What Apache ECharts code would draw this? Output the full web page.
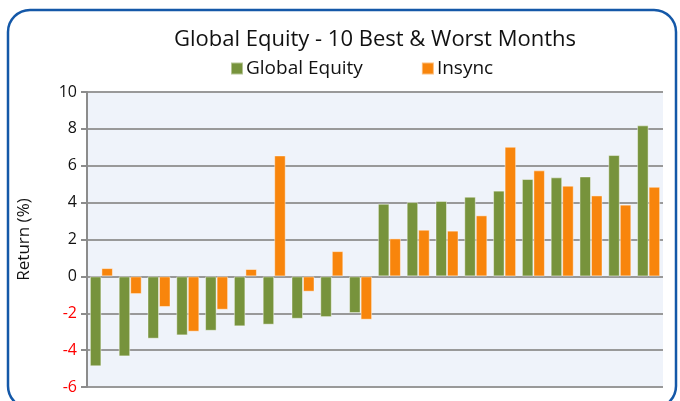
<!doctype html>
<html lang="en">
<head>
    <meta charset="UTF-8">
    <title>Global Equity - 10 Best & Worst Months</title>
    <style>
        body { margin: 0; background: #fff; }
    </style>
</head>
<body>
    <script src="https://cdn.jsdelivr.net/npm/echarts@6/dist/echarts.min.js"></script>
    <div id="bar" style="width: 680px; height: 401px"></div>

    <script>
        // 20 months: 10 worst then 10 best for Global Equity
        var months = ['1', '2', '3', '4', '5', '6', '7', '8', '9', '10',
                      '11', '12', '13', '14', '15', '16', '17', '18', '19', '20'];
        var globalEquity = [-4.88, -4.34, -3.38, -3.2, -2.95, -2.71, -2.62, -2.3, -2.21, -1.99,
                            3.94, 4.03, 4.09, 4.32, 4.65, 5.28, 5.37, 5.42, 6.58, 8.19];
        var insync = [0.45, -0.96, -1.66, -3.0, -1.81, 0.4, 6.56, -0.83, 1.37, -2.35,
                      2.06, 2.53, 2.48, 3.31, 7.03, 5.75, 4.92, 4.39, 3.89, 4.86];

        var font = '"Liberation Sans Narrow", "Open Sans", sans-serif';

        var barOption = {
            animation: false,
            textStyle: { fontFamily: font },
            graphic: [{
                type: 'rect',
                shape: { x: 8, y: 10, width: 668, height: 398, r: 22 },
                style: { fill: 'none', stroke: '#1458a8', lineWidth: 2.5 },
                z: 100
            }],
            title: {
                text: 'Global Equity - 10 Best & Worst Months',
                left: 375,
                textAlign: 'center',
                top: 29,
                padding: 0,
                textStyle: { fontFamily: font, fontSize: 22, fontWeight: 'normal', color: '#111' }
            },
            legend: {
                top: 59,
                left: 230,
                padding: 0,
                itemWidth: 12,
                itemHeight: 12,
                itemGap: 58,
                icon: 'rect',
                textStyle: { fontFamily: font, fontSize: 19, color: '#111', padding: [0, 0, 0, -2] },
                data: ['Global Equity', 'Insync']
            },
            grid: {
                left: 87, right: 17, top: 92, bottom: 14,
                show: true,
                backgroundColor: '#eff3fa',
                borderWidth: 0
            },
            xAxis: {
                type: 'category',
                data: months,
                axisLine: { show: false },
                axisTick: { show: false },
                axisLabel: { show: false }
            },
            yAxis: {
                type: 'value',
                min: -6,
                max: 10,
                interval: 2,
                name: 'Return (%)',
                nameLocation: 'middle',
                nameGap: 54,
                nameTextStyle: { fontFamily: font, fontSize: 17, color: '#111' },
                axisLine: { show: true, lineStyle: { color: '#8c8c8c', width: 2 } },
                axisTick: { show: true, length: 6, lineStyle: { color: '#8c8c8c', width: 2 } },
                axisLabel: {
                    fontFamily: font,
                    fontSize: 16,
                    margin: 10,
                    color: function (v) { return v < 0 ? '#ff0000' : '#111'; }
                },
                splitLine: { lineStyle: { color: '#999', width: 2 } }
            },
            series: [
                {
                    name: 'Global Equity',
                    type: 'bar',
                    data: globalEquity,
                    barGap: '0%',
                    barCategoryGap: '20%',
                    itemStyle: { color: '#77933c', borderColor: 'rgba(255,255,255,0.45)', borderWidth: 1 }
                },
                {
                    name: 'Insync',
                    type: 'bar',
                    data: insync,
                    barGap: '0%',
                    barCategoryGap: '20%',
                    itemStyle: { color: '#f8850c', borderColor: 'rgba(255,255,255,0.45)', borderWidth: 1 }
                }
            ]
        };

        var barChart = echarts.init(document.getElementById('bar'));
        barChart.setOption(barOption);
    </script>
</body>
</html>
